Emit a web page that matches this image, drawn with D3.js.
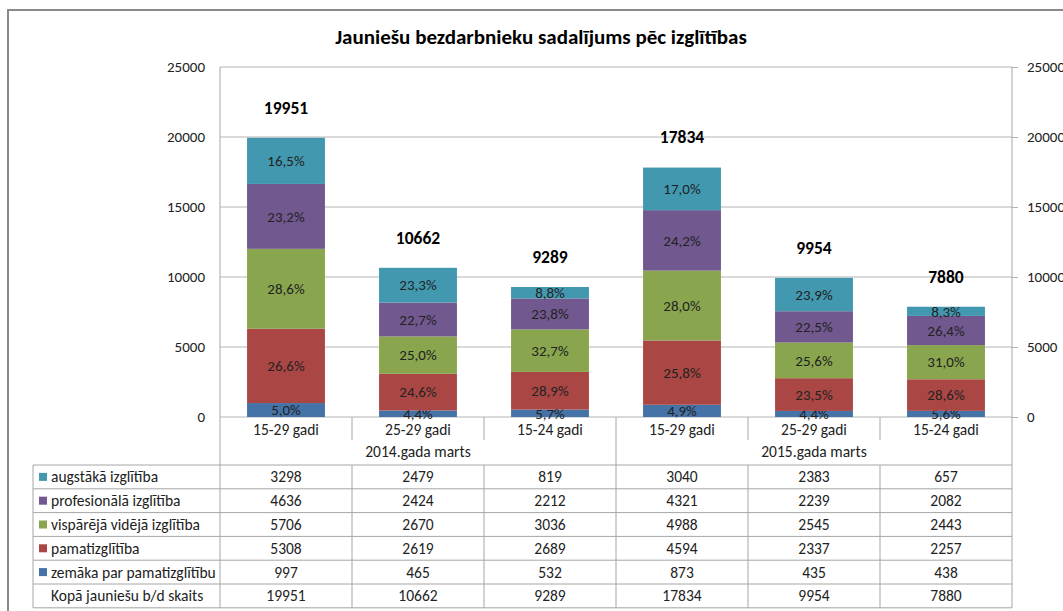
<html lang="lv">
<head>
<meta charset="UTF-8">
<script src="https://d3js.org/d3.v7.min.js"></script>
<title>Jauniešu bezdarbnieku sadalījums</title>
<style>
  body { margin: 0; background: #fff; }
  text { font-family: Carlito, Lato, "Liberation Sans", sans-serif; fill: #222; }
  .grid line { stroke: #b4b4b4; }
  .tbl { stroke: #a6a6a6; stroke-width: 1; }
</style>
<script>
var categories = ["15-29 gadi", "25-29 gadi", "15-24 gadi", "15-29 gadi", "25-29 gadi", "15-24 gadi"];
var groups = ["2014.gada marts", "2015.gada marts"];
var seriesNames = ["zemāka par pamatizglītību", "pamatizglītība", "vispārējā vidējā izglītība", "profesionālā izglītība", "augstākā izglītība"];
var zemaka = [997, 465, 532, 873, 435, 438];
var pamat = [5308, 2619, 2689, 4594, 2337, 2257];
var visp = [5706, 2670, 3036, 4988, 2545, 2443];
var prof = [4636, 2424, 2212, 4321, 2239, 2082];
var augst = [3298, 2479, 819, 3040, 2383, 657];
var totals = [19951, 10662, 9289, 17834, 9954, 7880];
var totalLabel = "Kopā jauniešu b/d skaits";
var yTicks = [0, 5000, 10000, 15000, 20000, 25000];
var colors = ["#4572a7", "#aa4643", "#89a54e", "#71588f", "#4198af"];

function main() {
  var svg = d3.select("svg");
  var left = 220, right = 1012, top = 67, base = 417;
  var values = [zemaka, pamat, visp, prof, augst];

  // outer frame
  svg.append("path").attr("d", "M8,611 V10 H1063").attr("fill", "none")
    .attr("stroke", "#8a8a8a").attr("stroke-width", 2);

  svg.append("text").attr("x", 541).attr("y", 44).attr("text-anchor", "middle")
    .style("font-size", "21px").style("font-weight", "bold").style("fill", "#000")
    .text("Jauniešu bezdarbnieku sadalījums pēc izglītības");

  var x = d3.scaleBand().domain(d3.range(categories.length)).range([left, right])
    .paddingInner(0.41).paddingOuter(0.205);
  var y = d3.scaleLinear().domain([0, 25000]).range([base, top]);

  // gridlines
  svg.append("g").attr("class", "grid").selectAll("line").data(yTicks).enter().append("line")
    .attr("x1", left).attr("x2", right).attr("y1", function(d){return y(d);}).attr("y2", function(d){return y(d);});

  var yl = svg.append("g").attr("transform", "translate(" + left + ",0)")
    .call(d3.axisLeft(y).tickValues(yTicks).tickSize(0).tickPadding(15).tickFormat(d3.format("d")));
  var yr = svg.append("g").attr("transform", "translate(" + right + ",0)")
    .call(d3.axisRight(y).tickValues(yTicks).tickSize(6).tickPadding(9).tickFormat(d3.format("d")));
  [yl, yr].forEach(function(a){
    a.select(".domain").remove();
    a.selectAll("line").attr("stroke", "#b4b4b4");
    a.selectAll("text").style("font-size", "15px").style("fill", "#222").style("font-family", "Carlito, Lato, sans-serif");
  });

  // stacked bars
  var rows = categories.map(function(c, i){
    var r = {i: i};
    seriesNames.forEach(function(s, k){ r[s] = values[k][i]; });
    return r;
  });
  var stack = d3.stack().keys(seriesNames)(rows);
  var layer = svg.append("g").selectAll("g").data(stack).enter().append("g")
    .attr("fill", function(d, k){return colors[k];});
  layer.selectAll("rect").data(function(d){return d;}).enter().append("rect")
    .attr("x", function(d){return x(d.data.i);})
    .attr("y", function(d){return y(d[1]);})
    .attr("width", x.bandwidth())
    .attr("height", function(d){return y(d[0]) - y(d[1]);});
  var pct = function(v, t){ return (v / t * 100).toFixed(1).replace(".", ",") + "%"; };
  layer.selectAll("text").data(function(d){return d;}).enter().append("text")
    .attr("x", function(d){return x(d.data.i) + x.bandwidth() / 2;})
    .attr("y", function(d){return (y(d[0]) + y(d[1])) / 2;})
    .attr("dy", "0.35em").attr("text-anchor", "middle").style("font-size", "15px")
    .text(function(d){return pct(d[1] - d[0], totals[d.data.i]);});

  svg.append("g").selectAll("text").data(totals).enter().append("text")
    .attr("x", function(d, i){return x(i) + x.bandwidth() / 2;})
    .attr("y", function(d){return y(d) - 24;})
    .attr("text-anchor", "middle").style("font-size", "17.5px").style("font-weight", "bold").style("fill", "#000")
    .text(function(d){return d;});

  // category rows and data table
  var step = x.step();
  var tLeft = 33, tTop = 465, rowH = 23.8;
  var tg = svg.append("g");
  tg.append("line").attr("class", "tbl").attr("x1", left).attr("x2", left).attr("y1", top).attr("y2", tTop + rowH * 6);
  tg.append("line").attr("class", "tbl").attr("x1", right).attr("x2", right).attr("y1", top).attr("y2", tTop + rowH * 6);
  tg.append("line").attr("class", "tbl").attr("x1", left + step * 3).attr("x2", left + step * 3).attr("y1", base).attr("y2", tTop + rowH * 6);
  [1, 2, 4, 5].forEach(function(k){
    tg.append("line").attr("class", "tbl").attr("x1", left + step * k).attr("x2", left + step * k).attr("y1", base).attr("y2", 440);
    tg.append("line").attr("class", "tbl").attr("x1", left + step * k).attr("x2", left + step * k).attr("y1", tTop).attr("y2", tTop + rowH * 6);
  });
  tg.selectAll(".cat").data(categories).enter().append("text")
    .attr("x", function(d, i){return x(i) + x.bandwidth() / 2;}).attr("y", 430).attr("dy", "0.35em")
    .attr("text-anchor", "middle").style("font-size", "15.5px").text(function(d){return d;});
  tg.selectAll(".grp").data(groups).enter().append("text")
    .attr("x", function(d, i){return left + step * (3 * i + 1.5);}).attr("y", 452).attr("dy", "0.35em")
    .attr("text-anchor", "middle").style("font-size", "15.5px").text(function(d){return d;});

  d3.range(7).forEach(function(r){
    tg.append("line").attr("class", "tbl").attr("x1", tLeft).attr("x2", right)
      .attr("y1", tTop + rowH * r).attr("y2", tTop + rowH * r);
  });
  tg.append("line").attr("class", "tbl").attr("x1", tLeft).attr("x2", tLeft).attr("y1", tTop).attr("y2", tTop + rowH * 6);

  var tableRows = [4, 3, 2, 1, 0].map(function(k){
    return {name: seriesNames[k], color: colors[k], vals: values[k]};
  });
  tableRows.push({name: totalLabel, color: null, vals: totals});
  tableRows.forEach(function(r, ri){
    var cy = tTop + rowH * ri + rowH / 2;
    if (r.color) {
      tg.append("rect").attr("x", 39).attr("y", cy - 4).attr("width", 8).attr("height", 8).attr("fill", r.color);
    }
    tg.append("text").attr("x", 51).attr("y", cy).attr("dy", "0.35em").style("font-size", "15.5px").text(r.name);
    r.vals.forEach(function(v, i){
      tg.append("text").attr("x", x(i) + x.bandwidth() / 2).attr("y", cy).attr("dy", "0.35em")
        .attr("text-anchor", "middle").style("font-size", "15.5px").text(v);
    });
  });
}
</script>
</head>
<body onload="main();">
<svg width="1063" height="611"></svg>
</body>
</html>
